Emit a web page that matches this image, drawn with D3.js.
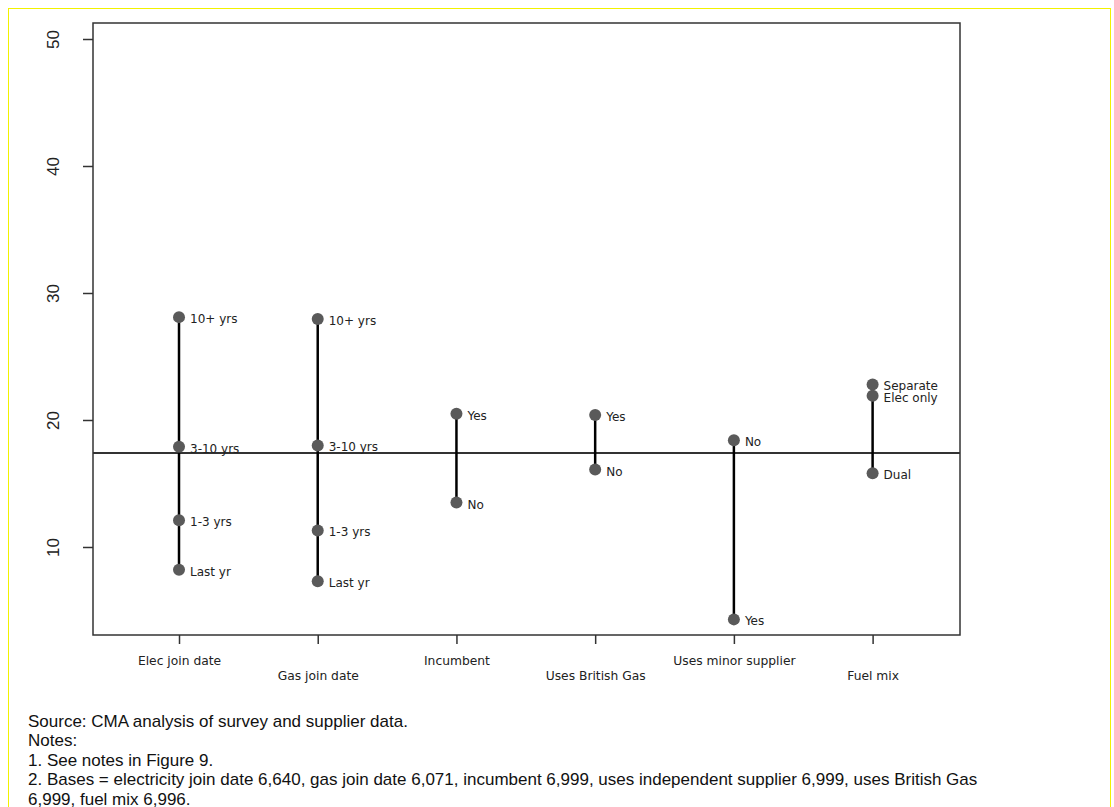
<!DOCTYPE html>
<html>
<head>
<meta charset="utf-8">
<script src="https://cdn.jsdelivr.net/npm/d3@7"></script>
<style>
  body { margin: 0; background: #fff; }
  svg text { font-family: "Liberation Sans", Arial, sans-serif; }
  svg text.lab { font-family: "DejaVu Sans", Verdana, sans-serif; }
</style>
</head>
<body>
<div id="wrapper"></div>
<script>
// data
const groups = ["Elec join date", "Gas join date", "Incumbent", "Uses British Gas", "Uses minor supplier", "Fuel mix"]
const pointLabels = [
  ["10+ yrs", "3-10 yrs", "1-3 yrs", "Last yr"],
  ["10+ yrs", "3-10 yrs", "1-3 yrs", "Last yr"],
  ["Yes", "No"],
  ["Yes", "No"],
  ["No", "Yes"],
  ["Separate", "Elec only", "Dual"],
]
const pointValues = [
  [28.1, 17.9, 12.1, 8.2],
  [27.95, 18.0, 11.3, 7.3],
  [20.5, 13.5],
  [20.4, 16.1],
  [18.4, 4.3],
  [22.8, 21.9, 15.8],
]
const overallMean = 17.4
const yTicks = [10, 20, 30, 40, 50]
const notes = [
  "Source: CMA analysis of survey and supplier data.",
  "Notes:",
  "1. See notes in Figure 9.",
  "2. Bases = electricity join date 6,640, gas join date 6,071, incumbent 6,999, uses independent supplier 6,999, uses British Gas",
  "6,999, fuel mix 6,996.",
]

async function drawChart() {
  const width = 1114
  const height = 807
  const plot = { left: 93, right: 960, top: 23, bottom: 635 }

  const svg = d3.select("#wrapper").append("svg")
    .attr("width", width)
    .attr("height", height)

  // yellow page border
  svg.append("rect")
    .attr("x", 8.5).attr("y", 8.5)
    .attr("width", 1102).attr("height", 830)
    .attr("fill", "none")
    .attr("stroke", "#f2f200")
    .attr("stroke-width", 1)

  const xScale = d3.scaleLinear()
    .domain([0.38, 6.63])
    .range([plot.left, plot.right])

  const yScale = d3.scaleLinear()
    .domain([3.07, 51.26])
    .range([plot.bottom, plot.top])

  // flatten points
  const points = []
  pointValues.forEach((vals, gi) => {
    vals.forEach((v, j) => points.push({ g: gi + 1, v: v, label: pointLabels[gi][j] }))
  })

  // axes
  const yAxis = svg.append("g")
    .attr("transform", `translate(${plot.left},0)`)
    .call(d3.axisLeft(yScale).tickValues(yTicks).tickSize(10).tickSizeOuter(0).tickPadding(0))
  yAxis.select(".domain").remove()
  yAxis.selectAll(".tick line").attr("stroke", "#333").attr("stroke-width", 1.5)
  yAxis.selectAll(".tick text")
    .attr("x", 0).attr("dy", 0)
    .attr("text-anchor", "middle")
    .attr("transform", "translate(-40,0) rotate(-90)")
    .attr("dominant-baseline", "central")
    .attr("font-size", 17)
    .attr("fill", "#222")

  const xAxis = svg.append("g")
    .attr("transform", `translate(0,${plot.bottom})`)
    .call(d3.axisBottom(xScale).tickValues(d3.range(1, groups.length + 1))
      .tickFormat(d => groups[d - 1]).tickSize(9).tickSizeOuter(0))
  xAxis.select(".domain").remove()
  xAxis.selectAll(".tick line").attr("stroke", "#333").attr("stroke-width", 1.5)
  xAxis.selectAll(".tick text")
    .attr("class", "lab")
    .attr("y", (d, i) => i % 2 === 0 ? 25.5 : 40.5)
    .attr("dy", "0.35em")
    .attr("font-size", 12.3)
    .attr("fill", "#222")

  // box
  svg.append("rect")
    .attr("x", plot.left).attr("y", plot.top)
    .attr("width", plot.right - plot.left)
    .attr("height", plot.bottom - plot.top)
    .attr("fill", "none")
    .attr("stroke", "#333")
    .attr("stroke-width", 1.5)

  // overall mean line
  svg.append("line")
    .attr("x1", plot.left).attr("x2", plot.right)
    .attr("y1", yScale(overallMean)).attr("y2", yScale(overallMean))
    .attr("stroke", "#333")
    .attr("stroke-width", 2)

  // range lines
  svg.selectAll(".range")
    .data(pointValues)
    .enter().append("line")
    .attr("class", "range")
    .attr("x1", (d, i) => xScale(i + 1))
    .attr("x2", (d, i) => xScale(i + 1))
    .attr("y1", d => yScale(d3.max(d)))
    .attr("y2", d => yScale(d3.min(d)))
    .attr("stroke", "#000")
    .attr("stroke-width", 2.5)

  svg.selectAll(".dot")
    .data(points)
    .enter().append("circle")
    .attr("class", "dot")
    .attr("cx", d => xScale(d.g))
    .attr("cy", d => yScale(d.v))
    .attr("r", 6)
    .attr("fill", "#5a5a5a")

  svg.selectAll(".plabel")
    .data(points)
    .enter().append("text")
    .attr("class", "plabel lab")
    .attr("x", d => xScale(d.g) + 11)
    .attr("y", d => yScale(d.v) + 2)
    .attr("dominant-baseline", "central")
    .attr("font-size", 12)
    .attr("fill", "#222")
    .text(d => d.label)

  // notes
  svg.selectAll(".note")
    .data(notes)
    .enter().append("text")
    .attr("class", "note")
    .attr("x", 28)
    .attr("y", (d, i) => 726.5 + i * 19.5)
    .attr("font-size", 17)
    .attr("fill", "#111")
    .text(d => d)
}
drawChart()
</script>
</body>
</html>
